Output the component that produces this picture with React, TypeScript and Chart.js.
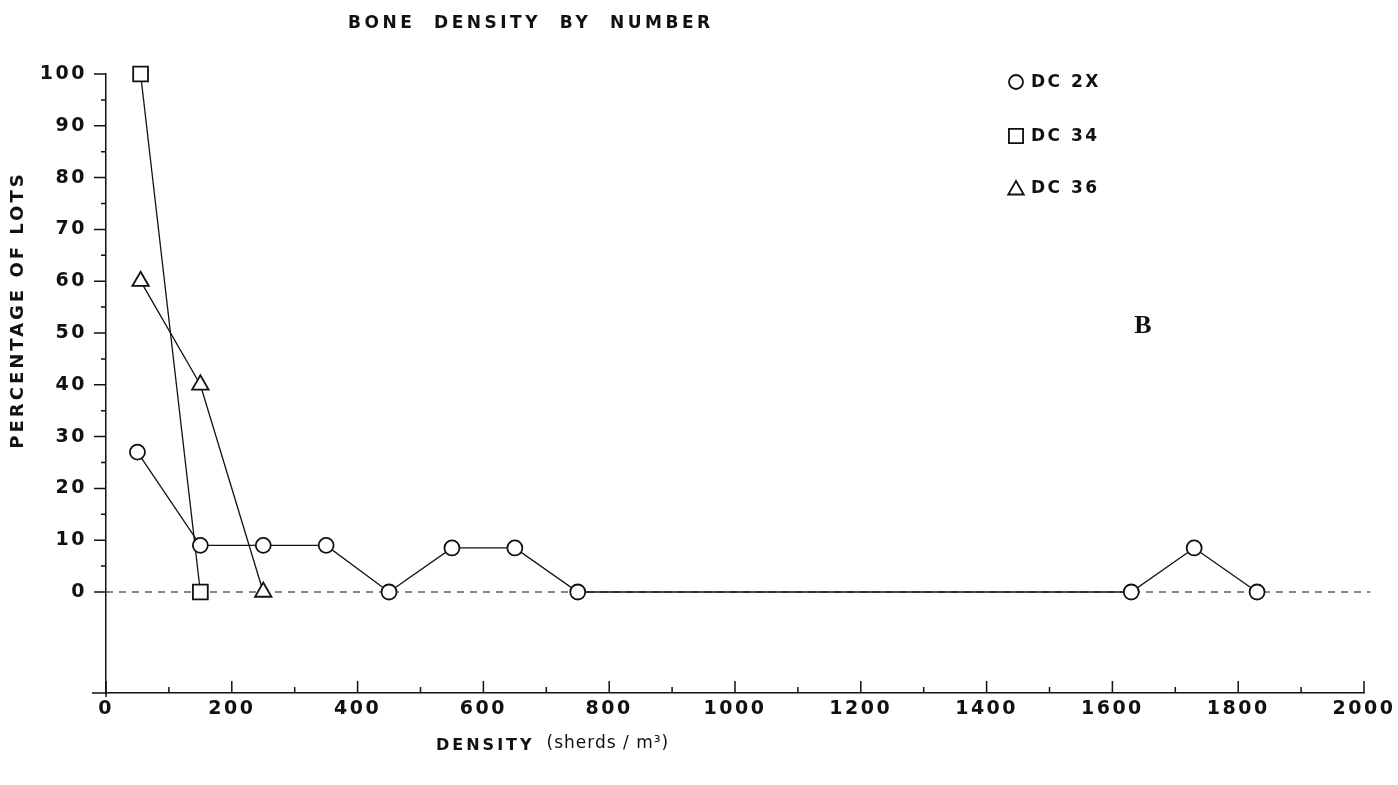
import React, { useEffect, useRef } from 'react';
import { Chart, registerables } from 'chart.js';

Chart.register(...registerables);

// ---- data ----
const titleText = 'BONE  DENSITY  BY  NUMBER';
const yAxisTitle = 'PERCENTAGE OF LOTS';
const xAxisTitleCaps = 'DENSITY';
const xAxisTitleUnit = '(sherds / m³)';
const panelLetter = 'B';

const xTickValues = [0, 200, 400, 600, 800, 1000, 1200, 1400, 1600, 1800, 2000];
const xMinorTickValues = [100, 300, 500, 700, 900, 1100, 1300, 1500, 1700, 1900];
const yTickValues = [0, 10, 20, 30, 40, 50, 60, 70, 80, 90, 100];
const yMinorTickValues = [5, 15, 25, 35, 45, 55, 65, 75, 85, 95];

const dc2xLabel = 'DC 2X';
const dc2xDensity = [50, 150, 250, 350, 450, 550, 650, 750, 1630, 1730, 1830];
const dc2xPercent = [27, 9, 9, 9, 0, 8.5, 8.5, 0, 0, 8.5, 0];

const dc34Label = 'DC 34';
const dc34Density = [55, 150];
const dc34Percent = [100, 0];

const dc36Label = 'DC 36';
const dc36Density = [55, 150, 250];
const dc36Percent = [60, 40, 0];

const zeroLineDensity = [0, 2010];
const zeroLinePercent = [0, 0];

const toPoints = (xs: number[], ys: number[]) => xs.map((x, i) => ({ x, y: ys[i] }));

const FONT = '"DejaVu Sans", sans-serif';
const INK = '#111';

function drawMarker(ctx: CanvasRenderingContext2D, style: string, x: number, y: number, r: number) {
  ctx.beginPath();
  if (style === 'circle') {
    ctx.arc(x, y, r, 0, Math.PI * 2);
  } else if (style === 'rect') {
    const s = Math.SQRT1_2 * r;
    ctx.rect(x - s, y - s, 2 * s, 2 * s);
  } else {
    const w = r * Math.sin(Math.PI / 3);
    ctx.moveTo(x, y - r);
    ctx.lineTo(x + w, y + r / 2);
    ctx.lineTo(x - w, y + r / 2);
    ctx.closePath();
  }
  ctx.fillStyle = '#fff';
  ctx.fill();
  ctx.lineWidth = 1.8;
  ctx.strokeStyle = INK;
  ctx.stroke();
}

const decorPlugin = {
  id: 'decor',
  beforeUpdate(chart: any) {
    chart.ctx.letterSpacing = '2.5px';
  },
  beforeDraw(chart: any) {
    const ctx = chart.ctx;
    ctx.save();
    ctx.fillStyle = '#fff';
    ctx.fillRect(0, 0, chart.width, chart.height);
    ctx.restore();
    ctx.letterSpacing = '2.5px';
  },
  afterDraw(chart: any) {
    const ctx: CanvasRenderingContext2D = chart.ctx;
    const xs = chart.scales.x;
    const ys = chart.scales.y;
    const area = chart.chartArea;
    ctx.save();
    ctx.strokeStyle = INK;
    ctx.lineWidth = 1.5;
    // y tick marks
    ctx.beginPath();
    yTickValues.forEach((v) => {
      const py = ys.getPixelForValue(v);
      ctx.moveTo(area.left - 12, py);
      ctx.lineTo(area.left, py);
    });
    yMinorTickValues.forEach((v) => {
      const py = ys.getPixelForValue(v);
      ctx.moveTo(area.left - 5, py);
      ctx.lineTo(area.left, py);
    });
    // x tick marks (inward)
    xTickValues.forEach((v) => {
      const px = xs.getPixelForValue(v);
      ctx.moveTo(px, area.bottom + (v === 0 ? 4 : 0));
      ctx.lineTo(px, area.bottom - 12);
    });
    xMinorTickValues.forEach((v) => {
      const px = xs.getPixelForValue(v);
      ctx.moveTo(px, area.bottom);
      ctx.lineTo(px, area.bottom - 6);
    });
    // small extension of x-axis to the left
    ctx.moveTo(area.left - 14, area.bottom);
    ctx.lineTo(area.left, area.bottom);
    ctx.stroke();

    ctx.fillStyle = INK;
    ctx.textBaseline = 'middle';
    // title
    ctx.letterSpacing = '3.5px';
    ctx.font = `bold 17px ${FONT}`;
    ctx.textAlign = 'left';
    ctx.fillText(titleText, 348, 24);

    // y axis title
    ctx.save();
    ctx.translate(18, 310);
    ctx.rotate(-Math.PI / 2);
    ctx.textAlign = 'center';
    ctx.letterSpacing = '3px';
    ctx.font = `bold 18px ${FONT}`;
    ctx.fillText(yAxisTitle, 0, 0);
    ctx.restore();

    // x axis title
    ctx.textAlign = 'left';
    ctx.font = `bold 16px ${FONT}`;
    ctx.letterSpacing = '3px';
    const capsW = ctx.measureText(xAxisTitleCaps).width;
    ctx.fillText(xAxisTitleCaps, 436, 746);
    ctx.letterSpacing = '1px';
    ctx.font = `17px ${FONT}`;
    ctx.fillText(xAxisTitleUnit, 436 + capsW + 12, 744);

    // legend
    ctx.letterSpacing = '2.5px';
    ctx.font = `bold 17px ${FONT}`;
    const rows = [82, 136, 188];
    chart.data.datasets
      .filter((d: any) => d.showInLegend)
      .forEach((d: any, i: number) => {
        const cy = rows[i];
        const r = d.pointStyle === 'rect' ? 10 : d.pointStyle === 'triangle' ? 9 : 7;
        drawMarker(ctx, d.pointStyle, 1016, d.pointStyle === 'triangle' ? cy + 2 : cy, r);
        ctx.fillStyle = INK;
        ctx.textAlign = 'left';
        ctx.fillText(d.label, 1031, cy + 1);
      });

    // panel letter
    ctx.letterSpacing = '0px';
    ctx.font = `bold 26px "Liberation Serif", serif`;
    ctx.textAlign = 'center';
    ctx.fillText(panelLetter, 1143, 326);
    ctx.restore();
  },
};

export default function App() {
  const ref = useRef<HTMLCanvasElement | null>(null);
  useEffect(() => {
    if (!ref.current) return;
    const lineCommon = {
      borderColor: INK,
      borderWidth: 1.3,
      pointBackgroundColor: '#fff',
      pointBorderColor: INK,
      pointBorderWidth: 1.8,
      tension: 0,
      clip: false as any,
      fill: false,
    };
    const chart = new Chart(ref.current, {
      type: 'line',
      data: {
        datasets: [
          {
            ...lineCommon,
            label: dc2xLabel,
            data: toPoints(dc2xDensity, dc2xPercent),
            pointStyle: 'circle',
            pointRadius: 7.5,
            showInLegend: true,
          } as any,
          {
            ...lineCommon,
            label: dc34Label,
            data: toPoints(dc34Density, dc34Percent),
            pointStyle: 'rect',
            pointRadius: 10.5,
            showInLegend: true,
          } as any,
          {
            ...lineCommon,
            label: dc36Label,
            data: toPoints(dc36Density, dc36Percent),
            pointStyle: 'triangle',
            pointRadius: 9.5,
            showInLegend: true,
          } as any,
          {
            label: 'zero',
            data: toPoints(zeroLineDensity, zeroLinePercent),
            borderColor: INK,
            borderWidth: 1.2,
            borderDash: [7, 6],
            pointRadius: 0,
            clip: false as any,
            showInLegend: false,
          } as any,
        ],
      },
      options: {
        animation: false,
        responsive: true,
        maintainAspectRatio: false,
        layout: { padding: { top: 74, right: 34, left: 0, bottom: 0 } },
        plugins: {
          legend: { display: false },
          tooltip: { enabled: false },
          title: { display: false },
        },
        events: [],
        scales: {
          x: {
            type: 'linear',
            min: 0,
            max: 2000,
            afterBuildTicks: (s: any) => {
              s.ticks = xTickValues.map((v) => ({ value: v }));
            },
            afterFit: (s: any) => {
              s.height = 92;
              s.paddingLeft = 0;
              s.paddingRight = 0;
            },
            grid: { display: false, drawTicks: false },
            border: { display: true, color: INK, width: 1.5 },
            ticks: {
              padding: 5,
              color: INK,
              maxRotation: 0,
              autoSkip: false,
              callback: (v: any) => String(v),
              font: { family: FONT, weight: 'bold', size: 19 },
            },
          },
          y: {
            type: 'linear',
            min: -19.5,
            max: 100,
            afterBuildTicks: (s: any) => {
              s.ticks = yTickValues.map((v) => ({ value: v }));
            },
            afterFit: (s: any) => {
              s.width = 106;
            },
            grid: { display: false, drawTicks: false },
            border: { display: true, color: INK, width: 1.5 },
            ticks: {
              padding: 19,
              color: INK,
              callback: (v: any) => String(v),
              font: { family: FONT, weight: 'bold', size: 19 },
            },
          },
        },
      } as any,
      plugins: [decorPlugin],
    });
    return () => chart.destroy();
  }, []);
  return (
    <div style={{ position: 'fixed', left: 0, top: 0, width: 1398, height: 785, background: '#fff' }}>
      <canvas ref={ref} />
    </div>
  );
}
